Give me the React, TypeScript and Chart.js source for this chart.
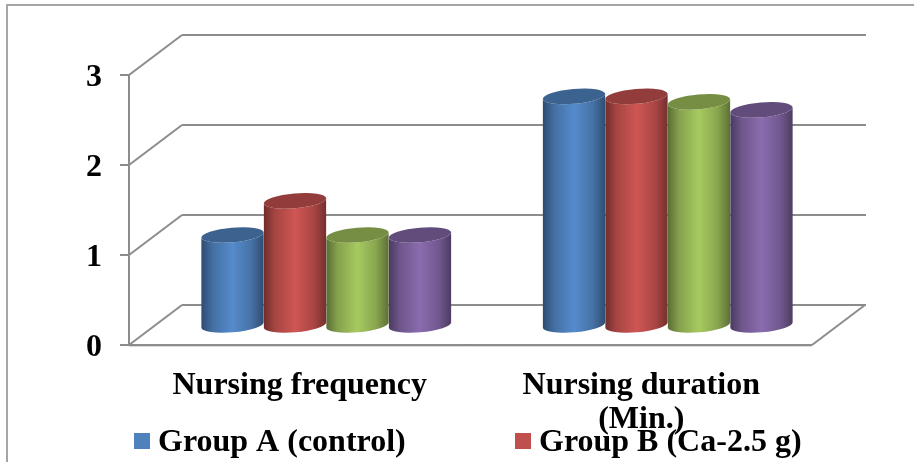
import React, { useEffect, useRef } from "react";
import { Chart, registerables } from "chart.js";

Chart.register(...registerables);

const categories: (string | string[])[] = ["Nursing frequency", ["Nursing duration", "(Min.)"]];
const groupNames = ["Group A (control)", "Group B (Ca-2.5 g)", "Group C", "Group D"];
const groupA = [1.0, 2.54];
const groupB = [1.38, 2.54];
const groupC = [1.0, 2.48];
const groupD = [1.0, 2.39];
const colors = ["#4F81BD", "#C0504D", "#9BBB59", "#8064A2"];
const legendCount = 2;

const GRID = "#8c8c8c";
const FONT = "'Liberation Serif', serif";
const DEPTH_X = 53;
const DEPTH_Y = 40;

function shade(hex: string, k: number) {
  const n = parseInt(hex.slice(1), 16);
  const c = [(n >> 16) & 255, (n >> 8) & 255, n & 255].map((v) => Math.min(255, Math.round(v * k)));
  return `rgb(${c[0]},${c[1]},${c[2]})`;
}

function line(ctx: CanvasRenderingContext2D, x1: number, y1: number, x2: number, y2: number) {
  ctx.beginPath();
  ctx.moveTo(x1, y1);
  ctx.lineTo(x2, y2);
  ctx.stroke();
}

const wallsPlugin = {
  id: "walls",
  beforeDatasetsDraw(chart: any) {
    const { ctx, chartArea: a, scales } = chart;
    const y = scales.y;
    ctx.save();
    ctx.strokeStyle = "#a6a6a6";
    ctx.lineWidth = 2;
    line(ctx, 7, 462, 7, 5);
    line(ctx, 6, 5, 914, 5);
    ctx.strokeStyle = GRID;
    ctx.lineWidth = 2;
    line(ctx, a.left, y.getPixelForValue(y.max), a.left, y.getPixelForValue(0));
    y.ticks.forEach((t: any) => {
      const py = y.getPixelForValue(t.value);
      line(ctx, a.left - 9, py, a.left, py);
      line(ctx, a.left, py, a.left + DEPTH_X, py - DEPTH_Y);
      line(ctx, a.left + DEPTH_X, py - DEPTH_Y, a.right + DEPTH_X + 1, py - DEPTH_Y);
    });
    const y0 = y.getPixelForValue(0);
    line(ctx, a.right, y0, a.right + DEPTH_X, y0 - DEPTH_Y);
    ctx.lineWidth = 2;
    line(ctx, a.left, y0, a.right, y0);
    ctx.strokeStyle = "#d9d9d9";
    ctx.lineWidth = 1;
    line(ctx, a.left, y0 + 1.5, a.right, y0 + 1.5);
    ctx.restore();
  },
};

const cylinderPlugin = {
  id: "cylinders",
  beforeDatasetDraw() {
    return false;
  },
  afterDatasetsDraw(chart: any) {
    const { ctx } = chart;
    const rot = -0.085;
    const ry = 7.4;
    chart.data.datasets.forEach((ds: any, i: number) => {
      chart.getDatasetMeta(i).data.forEach((bar: any) => {
        const { x, y, base, width } = bar.getProps(["x", "y", "base", "width"], true);
        const cx = x + DEPTH_X / 2;
        const top = y - DEPTH_Y / 2;
        const bottom = base - DEPTH_Y / 2;
        const rx = width / 2;
        const col = ds.backgroundColor as string;
        const g = ctx.createLinearGradient(cx - rx, 0, cx + rx, 0);
        g.addColorStop(0, shade(col, 0.58));
        g.addColorStop(0.18, shade(col, 0.86));
        g.addColorStop(0.5, shade(col, 1.08));
        g.addColorStop(0.8, shade(col, 0.88));
        g.addColorStop(1, shade(col, 0.6));
        ctx.save();
        ctx.beginPath();
        ctx.ellipse(cx, bottom, rx, ry, rot, 0, Math.PI);
        ctx.ellipse(cx, top, rx, ry, rot, Math.PI, 0, true);
        ctx.closePath();
        ctx.fillStyle = g;
        ctx.fill();
        ctx.beginPath();
        ctx.ellipse(cx, top, rx, ry, rot, 0, Math.PI * 2);
        ctx.fillStyle = shade(col, 0.76);
        ctx.fill();
        ctx.restore();
      });
    });
  },
};

const legendPlugin = {
  id: "sideLegend",
  afterDraw(chart: any) {
    const { ctx } = chart;
    const xs = [134, 515];
    ctx.save();
    ctx.font = `bold 32px ${FONT}`;
    ctx.textBaseline = "alphabetic";
    ctx.textAlign = "left";
    chart.data.datasets.slice(0, legendCount).forEach((ds: any, i: number) => {
      ctx.fillStyle = ds.backgroundColor;
      ctx.fillRect(xs[i], 433, 16, 16);
      ctx.fillStyle = "#000";
      ctx.fillText(ds.label, xs[i] + 24, 451);
    });
    ctx.restore();
  },
};

export default function App() {
  const ref = useRef<HTMLCanvasElement>(null);
  useEffect(() => {
    const series = [groupA, groupB, groupC, groupD];
    const chart = new Chart(ref.current!, {
      type: "bar",
      data: {
        labels: categories as any,
        datasets: series.map((data, i) => ({
          label: groupNames[i],
          data,
          backgroundColor: colors[i],
          barPercentage: 1,
          categoryPercentage: 0.732,
        })),
      },
      options: {
        responsive: false,
        animation: false,
        layout: { padding: { left: 0, top: 75, right: 102, bottom: 0 } },
        plugins: { legend: { display: false }, tooltip: { enabled: false } },
        scales: {
          x: {
            grid: { display: false },
            border: { display: false },
            afterFit: (s: any) => {
              s.height = 117;
            },
            ticks: {
              maxRotation: 0,
              autoSkip: false,
              color: "#000",
              padding: 16,
              font: { family: FONT, size: 32, weight: "bold", lineHeight: 1.06 },
            },
          },
          y: {
            min: 0,
            max: 3,
            grid: { display: false },
            border: { display: false },
            afterFit: (s: any) => {
              s.width = 129;
            },
            ticks: {
              stepSize: 1,
              color: "#000",
              padding: 19,
              callback: (v: any) => ["", String(v)],
              font: { family: FONT, size: 32, weight: "bold", lineHeight: 0.19 },
            },
          },
        },
      },
      plugins: [wallsPlugin, cylinderPlugin, legendPlugin],
    } as any);
    return () => chart.destroy();
  }, []);
  return (
    <div style={{ position: "absolute", left: 0, top: 0, width: 914, height: 462, background: "#fff" }}>
      <canvas ref={ref} width={914} height={462} style={{ display: "block" }} />
    </div>
  );
}
